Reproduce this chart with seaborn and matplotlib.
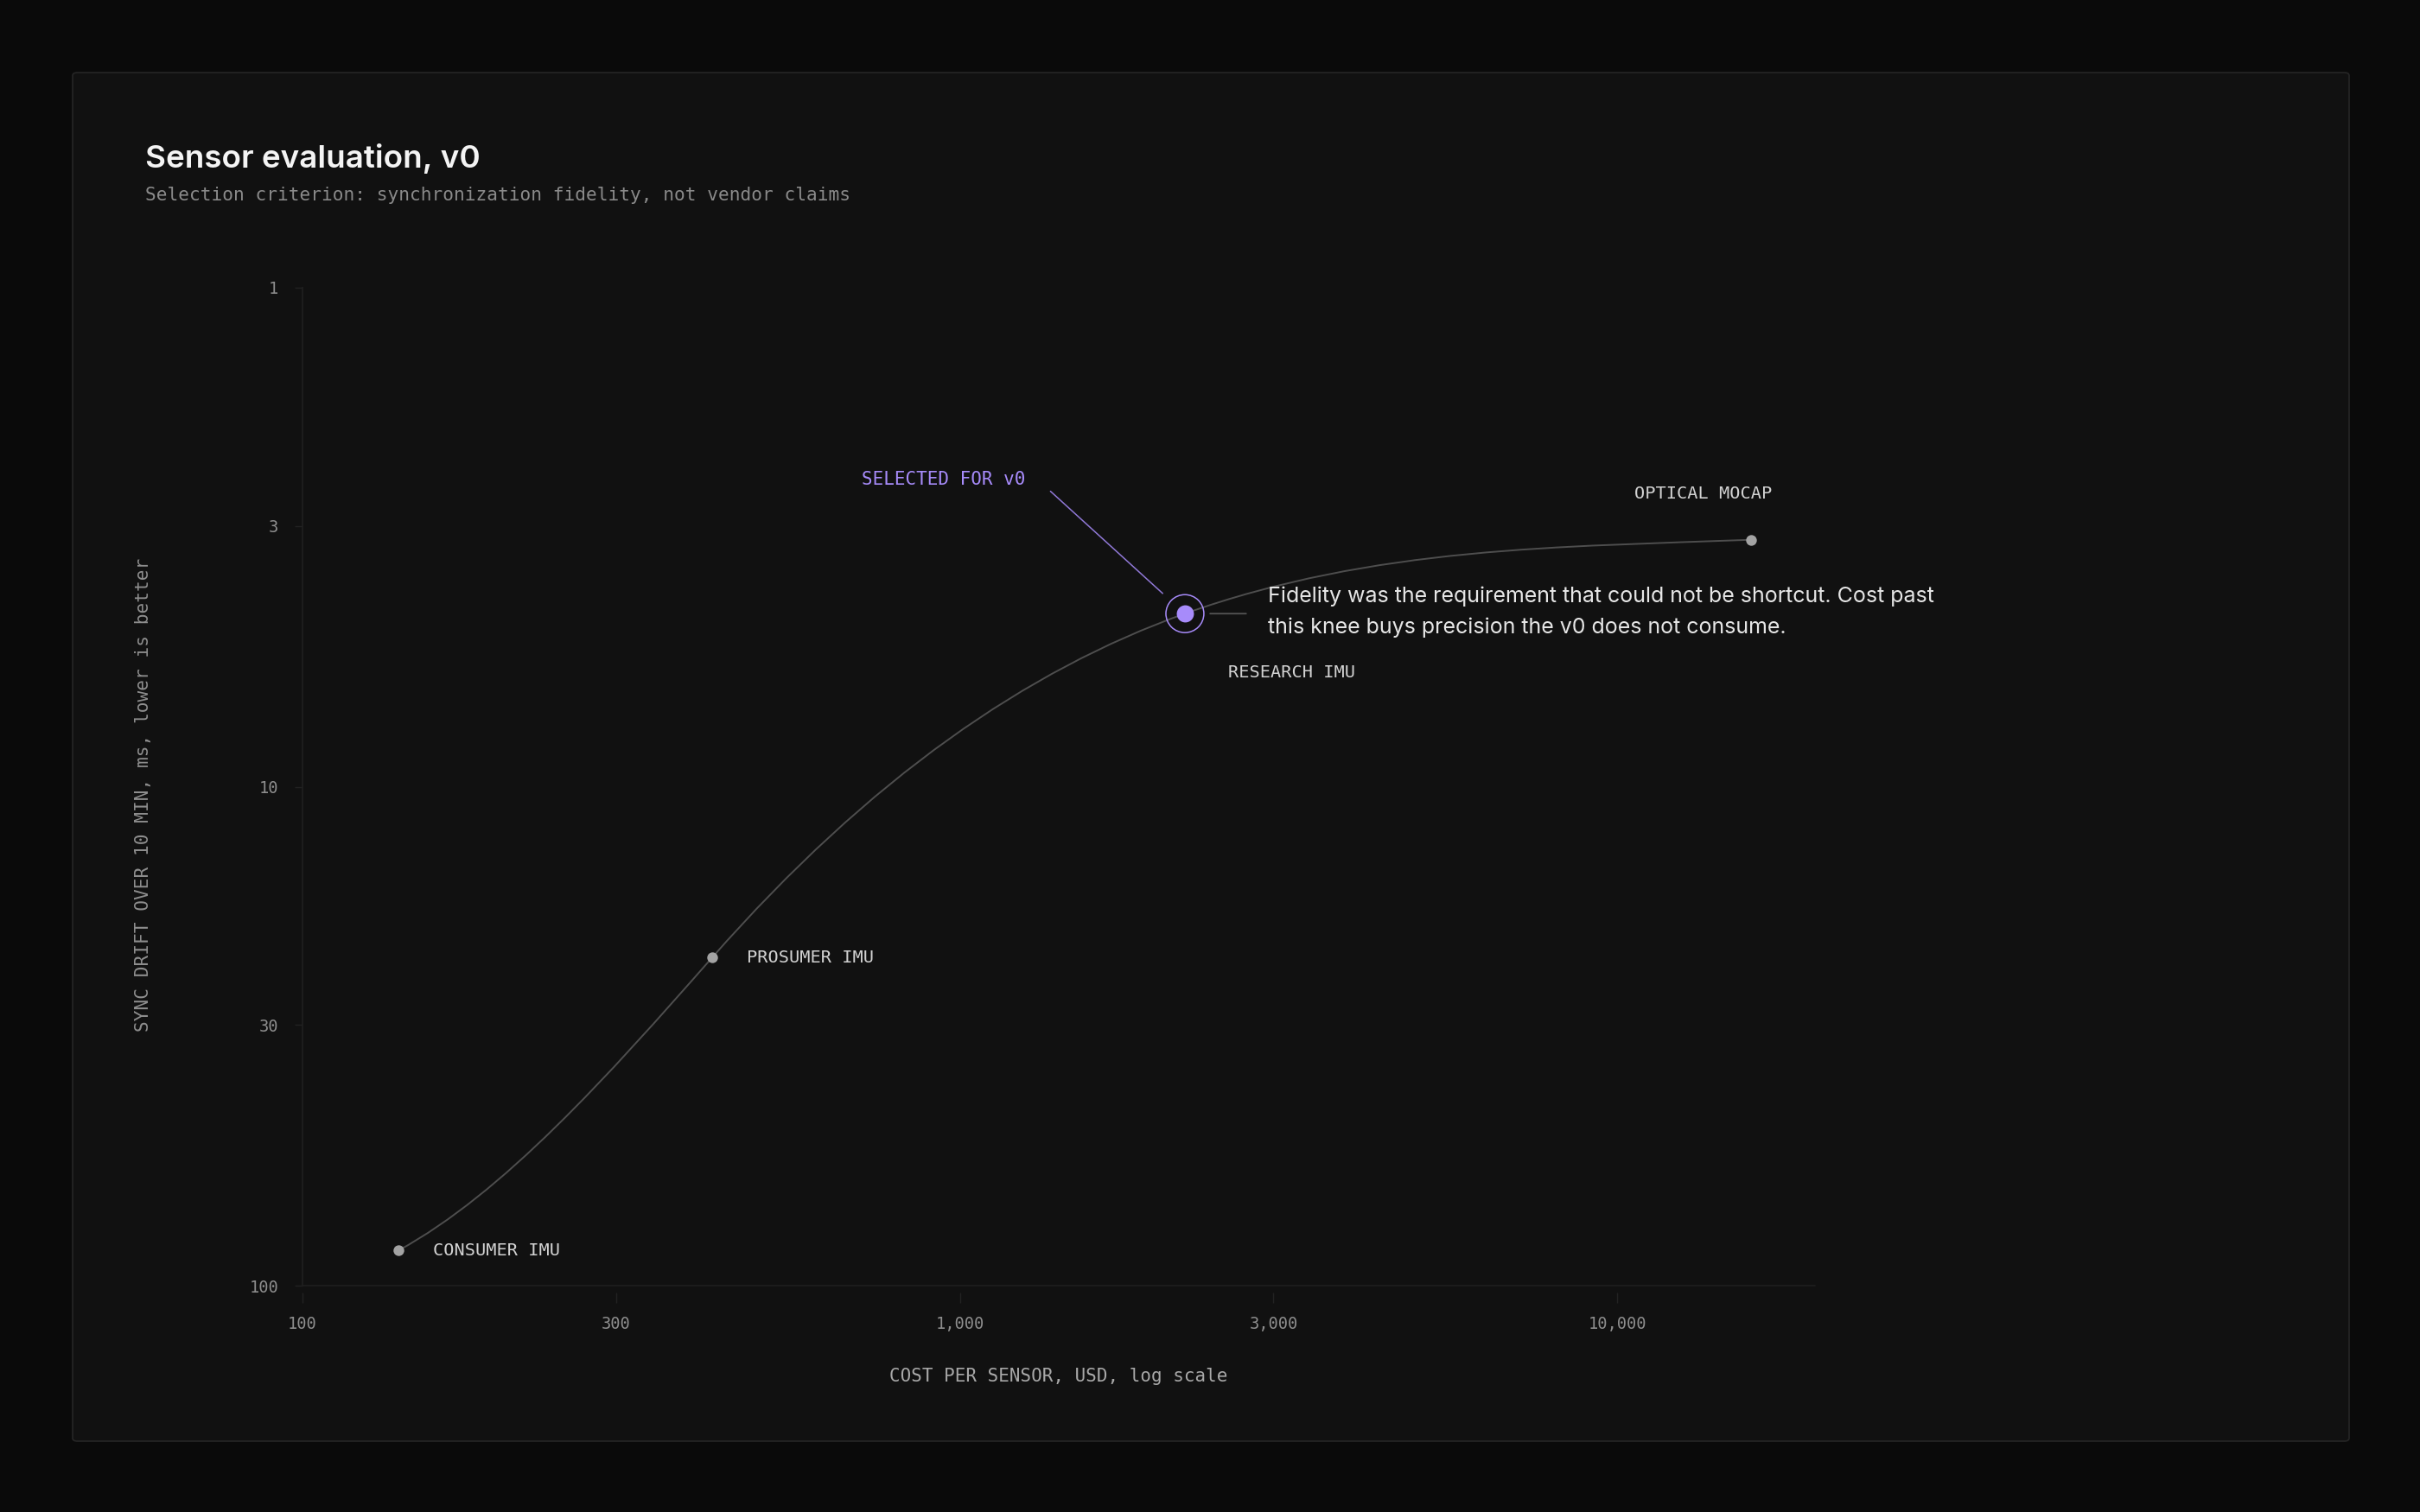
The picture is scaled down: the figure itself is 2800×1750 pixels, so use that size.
import numpy as np
import pandas as pd
import matplotlib.pyplot as plt
import seaborn as sns
from matplotlib.path import Path
from matplotlib.patches import PathPatch, FancyBboxPatch

# sensor candidates, cost vs sync drift
sensors = ["CONSUMER IMU", "PROSUMER IMU", "RESEARCH IMU", "OPTICAL MOCAP"]
cost_usd = [140, 420, 2200, 16000]
drift_ms = [85, 22, 4.5, 3.2]
# slope of the frontier curve at each sensor (decades of drift per decade of cost)
curve_slope = [-0.72, -1.5, -0.47, -0.05]
selected = "RESEARCH IMU"

x_ticks = [100, 300, 1000, 3000, 10000]
x_ticklabels = ["100", "300", "1,000", "3,000", "10,000"]
y_ticks = [1, 3, 10, 30, 100]
y_ticklabels = ["1", "3", "10", "30", "100"]

df = pd.DataFrame({"sensor": sensors, "cost": cost_usd, "drift": drift_ms,
                   "slope": curve_slope})

BG = "#0a0a0a"
CARD = "#111111"
PURPLE = "#a78bfa"
MONO = "DejaVu Sans Mono"
SANS = "Inter"

sns.set_theme(style="ticks", rc={
    "figure.facecolor": BG,
    "axes.facecolor": CARD,
    "axes.edgecolor": "#222222",
    "xtick.color": "#222222",
    "ytick.color": "#222222",
    "xtick.labelcolor": "#8e8e8e",
    "ytick.labelcolor": "#8e8e8e",
})
plt.rcParams["font.family"] = [MONO, "DejaVu Sans"]

W, H = 2800, 1750
fig = plt.figure(figsize=(28, 17.5), dpi=100)

# card behind the chart
card = FancyBboxPatch((84 / W, 1 - 1668 / H), (2718 - 84) / W, (1668 - 84) / H,
                      boxstyle="round,pad=0,rounding_size=0.002",
                      transform=fig.transFigure, facecolor=CARD,
                      edgecolor="#262626", linewidth=1.2, zorder=-10)
fig.patches.append(card)

ax = fig.add_axes([350 / W, 1 - 1488 / H, 1750 / W, 1155 / H])
ax.set_facecolor(CARD)
ax.set_xscale("log")
ax.set_yscale("log")
ax.set_xlim(100, 20000)
ax.set_ylim(100, 1)

# smooth curve through the sensors (cubic segments in log space)
lx = np.log10(df["cost"].to_numpy(float))
ly = np.log10(df["drift"].to_numpy(float))
t = df["slope"].to_numpy(float)
verts = [(lx[0], ly[0])]
codes = [Path.MOVETO]
for i in range(len(lx) - 1):
    dx = (lx[i + 1] - lx[i]) / 3
    verts += [(lx[i] + dx, ly[i] + dx * t[i]),
              (lx[i + 1] - dx, ly[i + 1] - dx * t[i + 1]),
              (lx[i + 1], ly[i + 1])]
    codes += [Path.CURVE4] * 3
verts = 10 ** np.array(verts)
ax.add_patch(PathPatch(Path(verts, codes), facecolor="none", edgecolor="#4e4e4e",
                       linewidth=1.4, zorder=2))

others = df[df["sensor"] != selected]
sel = df[df["sensor"] == selected]
sns.scatterplot(data=others, x="cost", y="drift", color="#a3a3a3", s=80,
                linewidth=0, ax=ax, zorder=4, legend=False)
ax.scatter(sel["cost"], sel["drift"], s=1000, facecolor="none", edgecolor=PURPLE,
           linewidth=1.1, zorder=4)
sns.scatterplot(data=sel, x="cost", y="drift", color=PURPLE, s=205,
                linewidth=0, ax=ax, zorder=5, legend=False)

# point labels
label_offsets = {
    "CONSUMER IMU": ((29, 0), "left"),
    "PROSUMER IMU": ((29, 0), "left"),
    "RESEARCH IMU": ((36, -49), "left"),
    "OPTICAL MOCAP": ((17, 38), "right"),
}
for _, row in df.iterrows():
    off, ha = label_offsets[row["sensor"]]
    ax.annotate(row["sensor"], (row["cost"], row["drift"]), xytext=off,
                textcoords="offset points", ha=ha, va="center",
                fontsize=14.6, color="#d2d2d2", family=MONO, zorder=6)

sx, sy = sel["cost"].iloc[0], sel["drift"].iloc[0]
ax.annotate("SELECTED FOR v0", (sx, sy), xytext=(-133, 112), textcoords="offset points",
            ha="right", va="center", fontsize=15, color=PURPLE, family=MONO)
ax.annotate("", (sx, sy), xytext=(-112, 102), textcoords="offset points",
            arrowprops=dict(arrowstyle="-", color=PURPLE, lw=1.1, alpha=0.85,
                            shrinkA=0, shrinkB=25))
ax.annotate("", (sx, sy), xytext=(51, 0), textcoords="offset points",
            arrowprops=dict(arrowstyle="-", color="#555555", lw=1.3,
                            shrinkA=0, shrinkB=21))
ax.annotate("Fidelity was the requirement that could not be shortcut. Cost past\n"
            "this knee buys precision the v0 does not consume.",
            (sx, sy), xytext=(69, 1.5), textcoords="offset points",
            ha="left", va="center", fontsize=18, color="#e6e6e6",
            family=[SANS, "DejaVu Sans"], linespacing=1.66)

# axes styling
ax.set_xticks(x_ticks)
ax.set_xticklabels(x_ticklabels)
ax.set_yticks(y_ticks)
ax.set_yticklabels(y_ticklabels)
ax.minorticks_off()
ax.tick_params(axis="x", length=8.5, width=1, pad=11, labelsize=13.5)
ax.tick_params(axis="y", length=6.5, width=1, pad=13.5, labelsize=13.5)
for lab in ax.get_xticklabels() + ax.get_yticklabels():
    lab.set_family(MONO)

sns.despine(ax=ax)
ax.spines["left"].set_color("#1f1f1f")
ax.spines["bottom"].set_position(("outward", 5.8))
ax.spines["bottom"].set_visible(False)
ax.axhline(100, color="#1f1f1f", lw=1.2, clip_on=False, zorder=1)

ax.set_xlabel("COST PER SENSOR, USD, log scale", fontsize=15, color="#a8a8a8", family=MONO)
ax.set_ylabel("SYNC DRIFT OVER 10 MIN, ms, lower is better", fontsize=15.2,
              color="#8e8e8e", family=MONO)
ax.xaxis.set_label_coords(0.5, (1488 - 1593) / 1155)
ax.xaxis.label.set_va("center")
ax.yaxis.set_label_coords((166 - 350) / 1750, (1488 - 920) / 1155)
ax.yaxis.label.set_va("center")

fig.text(168 / W, 1 - 194 / H, "Sensor evaluation, v0", fontsize=26.5, color="#f4f4f4",
         family=[SANS, "DejaVu Sans"], fontweight="semibold", va="baseline")
fig.text(168 / W, 1 - 226 / H, "Selection criterion: synchronization fidelity, not vendor claims",
         fontsize=15.2, color="#8a8a8a", family=MONO, va="center")

fig.savefig("out.png", dpi=100, facecolor=BG)
